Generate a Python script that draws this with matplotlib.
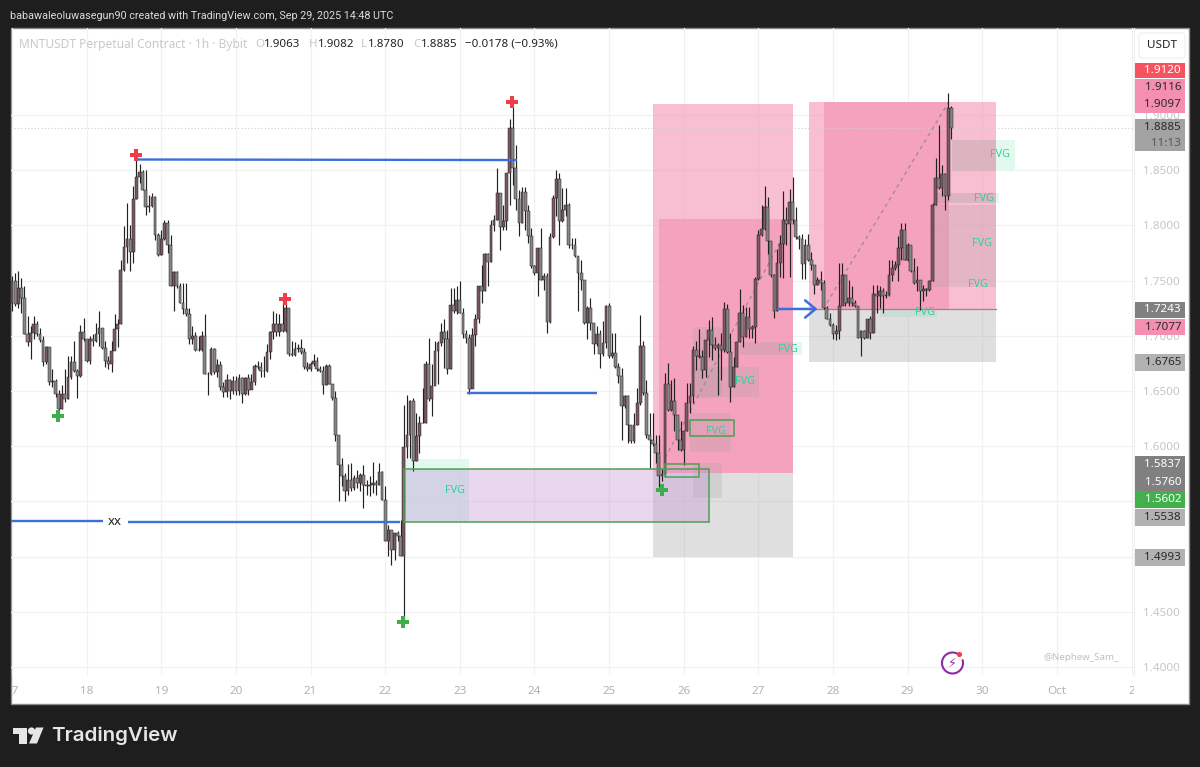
# MNTUSDT 1h chart with zones and FVG boxes
import matplotlib
matplotlib.use("Agg")
import matplotlib.pyplot as plt
from matplotlib.patches import Rectangle, Circle, Arc, Polygon, FancyBboxPatch
from matplotlib.transforms import Bbox
import numpy as np

# hourly candles starting Sep 17 00:00, open = previous close
open_first = 1.730
closes = [
    1.7495,1.7285,1.7435,1.7345,1.7015,1.6946,1.7024,1.7105,1.7015,1.696,
    1.6766,1.6895,1.658,1.6595,1.6475,1.634,1.6475,1.643,1.6625,1.676,
    1.6685,1.6634,1.703,1.697,1.6775,1.697,1.6955,1.7015,1.7075,1.6886,
    1.6775,1.6745,1.6865,1.7066,1.7105,1.76,1.7804,1.7876,1.7756,1.8236,
    1.844,1.8485,1.832,1.817,1.8176,1.826,1.7915,1.7735,1.7876,1.8026,
    1.7825,1.745,1.7579,1.745,1.73,1.724,1.7195,1.697,1.70,1.6874,
    1.6874,1.70,1.6655,1.6652,1.688,1.667,1.6736,1.6535,1.649,1.6604,
    1.6496,1.6595,1.6496,1.6616,1.6475,1.6616,1.6505,1.658,1.673,1.6715,
    1.6685,1.668,1.685,1.7036,1.7111,1.703,1.7105,1.7045,1.7255,1.6835,
    1.6826,1.688,1.6886,1.6856,1.6715,1.67,1.6745,1.6775,1.67,1.6685,
    1.6556,1.673,1.6565,1.6437,1.6104,1.5827,1.5727,1.5591,1.5697,1.5621,
    1.5712,1.5666,1.5742,1.5651,1.5636,1.5651,1.5666,1.5651,1.5766,1.5515,
    1.5138,1.5244,1.5063,1.5213,1.5183,1.5008,1.5993,1.6104,1.6406,1.5863,
    1.6089,1.621,1.621,1.6741,1.6425,1.6545,1.6861,1.6937,1.7033,1.6967,
    1.6702,1.7283,1.7223,1.7328,1.7208,1.7012,1.6982,1.6515,1.7003,1.7154,
    1.7449,1.7404,1.7744,1.7669,1.8006,1.8045,1.8292,1.7985,1.8036,1.8473,
    1.8885,1.8518,1.8238,1.8021,1.8307,1.8126,1.79,1.7629,1.7569,1.7795,
    1.7509,1.7539,1.7123,1.7895,1.8247,1.8419,1.8036,1.8142,1.8187,1.7825,
    1.7825,1.772,1.7569,1.7509,1.7117,1.7253,1.7117,1.6922,1.7012,1.6831,
    1.6937,1.7268,1.6816,1.6846,1.672,1.6636,1.6367,1.6452,1.6196,1.6045,
    1.6196,1.6392,1.6904,1.6482,1.6105,1.606,1.6024,1.594,1.5729,1.5744,
    1.6566,1.6331,1.6407,1.6286,1.606,1.597,1.6136,1.6392,1.6452,1.6873,
    1.6813,1.681,1.669,1.6961,1.7057,1.6916,1.6886,1.6916,1.6871,1.7247,
    1.6855,1.6539,1.672,1.6946,1.7208,1.6991,1.7172,1.7066,1.7081,1.7518,
    1.791,1.797,1.8166,1.7858,1.7548,1.7226,1.766,1.7828,1.8051,1.8015,
    1.8211,1.8045,1.7895,1.788,1.7654,1.7819,1.7684,1.7639,1.7458,1.7503,
    1.7479,1.7253,1.7154,1.7102,1.7012,1.7042,1.7268,1.7554,1.7298,1.7343,
    1.7298,1.7268,1.6982,1.7042,1.6982,1.7148,1.7027,1.7383,1.7358,1.7404,
    1.7358,1.7374,1.7554,1.7614,1.7645,1.7795,1.7961,1.769,1.7825,1.7584,
    1.7479,1.7503,1.7404,1.7425,1.7419,1.75,1.8187,1.8428,1.8337,1.8467,
    1.8268,1.9063,1.8885]
highs = [
    1.754,1.757,1.7585,1.7525,1.745,1.718,1.709,1.718,1.7135,1.7075,
    1.70,1.691,1.679,1.67,1.661,1.6505,1.655,1.67,1.682,1.682,
    1.6955,1.67,1.7096,1.7165,1.697,1.70,1.7015,1.712,1.7225,1.7075,
    1.6955,1.682,1.6955,1.7195,1.715,1.769,1.7996,1.82,1.8005,1.8356,
    1.8635,1.856,1.8506,1.85,1.8275,1.829,1.8265,1.793,1.796,1.805,
    1.805,1.7915,1.7585,1.7585,1.748,1.748,1.748,1.7255,1.709,1.703,
    1.70,1.7045,1.7195,1.667,1.6895,1.6886,1.679,1.6775,1.658,1.6655,
    1.661,1.664,1.664,1.6655,1.6625,1.6625,1.6655,1.6655,1.6745,1.6775,
    1.676,1.682,1.6925,1.7045,1.7225,1.721,1.7195,1.7336,1.73,1.7255,
    1.6955,1.694,1.6925,1.697,1.689,1.676,1.676,1.6835,1.6805,1.673,
    1.673,1.6745,1.6745,1.6557,1.6497,1.6104,1.5893,1.5757,1.5839,1.5848,
    1.5742,1.5787,1.5757,1.5833,1.5697,1.5727,1.5854,1.5697,1.5848,1.5772,
    1.5636,1.5289,1.5244,1.5213,1.5229,1.5334,1.6376,1.6467,1.6421,1.6437,
    1.6301,1.627,1.6527,1.677,1.6982,1.6741,1.6952,1.6952,1.7117,1.7148,
    1.7057,1.7434,1.7434,1.7449,1.7494,1.7253,1.7057,1.7012,1.7072,1.7193,
    1.7449,1.7645,1.775,1.775,1.8051,1.8096,1.8518,1.8286,1.8187,1.8473,
    1.8961,1.909,1.8729,1.8322,1.8352,1.8352,1.8187,1.7976,1.7645,1.7795,
    1.7976,1.7569,1.7569,1.7931,1.8277,1.8503,1.8473,1.8337,1.8337,1.8202,
    1.7886,1.7886,1.7711,1.769,1.7509,1.7268,1.7343,1.7117,1.7087,1.7057,
    1.7133,1.7283,1.7298,1.7027,1.7027,1.6756,1.6708,1.6467,1.6467,1.6196,
    1.6301,1.6527,1.719,1.6949,1.6602,1.6301,1.6301,1.6105,1.6105,1.5789,
    1.6663,1.6753,1.6602,1.6617,1.6226,1.6226,1.6136,1.6572,1.6572,1.6904,
    1.6949,1.7066,1.6871,1.6961,1.7142,1.7172,1.6991,1.6931,1.7021,1.7307,
    1.7292,1.7021,1.681,1.6946,1.7428,1.7277,1.7262,1.7262,1.7096,1.7533,
    1.7955,1.8181,1.8361,1.8256,1.7858,1.7557,1.7789,1.791,1.8316,1.8166,
    1.8331,1.8437,1.8166,1.791,1.7925,1.788,1.7925,1.7759,1.7639,1.7533,
    1.7584,1.7509,1.7268,1.7208,1.7117,1.7102,1.766,1.766,1.7383,1.7509,
    1.7449,1.7328,1.7268,1.7057,1.7057,1.7148,1.7178,1.7464,1.7464,1.7449,
    1.7434,1.7404,1.769,1.769,1.7675,1.7901,1.8021,1.8021,1.784,1.781,
    1.7705,1.763,1.7509,1.7464,1.7434,1.7509,1.8202,1.8608,1.891,1.8548,
    1.8473,1.9196,1.9082]
lows = [
    1.7225,1.727,1.7255,1.721,1.7015,1.691,1.679,1.697,1.70,1.694,
    1.673,1.6745,1.655,1.6535,1.6445,1.6295,1.634,1.64,1.643,1.661,
    1.667,1.6436,1.6625,1.6955,1.676,1.6745,1.691,1.694,1.691,1.688,
    1.6715,1.67,1.667,1.691,1.6895,1.7105,1.7585,1.766,1.7585,1.766,
    1.8236,1.838,1.832,1.8095,1.8125,1.817,1.787,1.772,1.7735,1.787,
    1.775,1.745,1.7225,1.7435,1.73,1.7195,1.718,1.6925,1.6925,1.6865,
    1.6865,1.6865,1.6655,1.6466,1.6646,1.6655,1.6625,1.6505,1.6445,1.6445,
    1.6424,1.6475,1.646,1.646,1.6394,1.646,1.646,1.6535,1.655,1.67,
    1.6625,1.6625,1.667,1.679,1.697,1.70,1.70,1.7036,1.7036,1.682,
    1.682,1.682,1.685,1.6835,1.67,1.6685,1.6685,1.673,1.6685,1.667,
    1.6475,1.655,1.6565,1.642,1.6044,1.55,1.5636,1.55,1.5561,1.5591,
    1.5606,1.5621,1.5591,1.544,1.5561,1.5546,1.5576,1.5561,1.5651,1.5509,
    1.5138,1.5002,1.4927,1.4972,1.5138,1.5002,1.44,1.5893,1.5893,1.5772,
    1.5863,1.5938,1.621,1.621,1.641,1.6274,1.6575,1.656,1.6907,1.6711,
    1.6651,1.6696,1.7208,1.7193,1.7202,1.6982,1.6937,1.647,1.6801,1.6907,
    1.7117,1.7298,1.7404,1.7449,1.7669,1.7946,1.8045,1.7774,1.7961,1.7961,
    1.8187,1.8367,1.8142,1.7907,1.8021,1.7961,1.784,1.7614,1.7554,1.7358,
    1.7503,1.7419,1.7027,1.7117,1.7886,1.8081,1.7825,1.8027,1.8081,1.7795,
    1.7786,1.7711,1.7223,1.7419,1.7108,1.6967,1.7057,1.6831,1.6907,1.6711,
    1.6816,1.6892,1.6801,1.6801,1.6711,1.6575,1.606,1.6346,1.603,1.603,
    1.603,1.6196,1.6377,1.6467,1.6075,1.5804,1.60,1.585,1.563,1.5684,
    1.5729,1.6316,1.6316,1.6136,1.597,1.5955,1.5834,1.6136,1.6301,1.6392,
    1.6693,1.6795,1.6615,1.663,1.681,1.678,1.6871,1.6464,1.66,1.6855,
    1.6846,1.6404,1.6533,1.672,1.6946,1.69,1.6991,1.6976,1.6976,1.6931,
    1.7503,1.7901,1.7961,1.7744,1.7533,1.7157,1.7226,1.7533,1.7527,1.7819,
    1.7533,1.8015,1.788,1.7789,1.7518,1.7518,1.7678,1.7593,1.7383,1.7458,
    1.7419,1.7247,1.7148,1.7087,1.6967,1.6961,1.6967,1.7374,1.7268,1.7268,
    1.7268,1.7262,1.6982,1.6816,1.6973,1.6982,1.6967,1.7021,1.7208,1.7253,
    1.7208,1.7344,1.7358,1.7494,1.7599,1.7494,1.769,1.7684,1.7675,1.7575,
    1.7473,1.7404,1.7238,1.7313,1.7358,1.7404,1.7494,1.8187,1.8328,1.8262,
    1.8142,1.8232,1.878]

# hours since Sep 17 00:00 for x, price for y
pink_zones = [(206.1, 251.1, 1.5760, 1.9100), (208.0, 251.1, 1.5760, 1.8058),
              (256.3, 316.4, 1.7243, 1.9116), (261.1, 301.3, 1.7243, 1.9116)]
grey_zones = [(206.1, 251.1, 1.4993, 1.5760), (256.3, 316.4, 1.6765, 1.7243)]
# mint extent then the greyed part inside the zone
fvg_mint = [(126.4, 146.9, 1.5793, 1.5884), (234.1, 254.0, 1.6826, 1.6944), (302.3, 322.5, 1.8493, 1.8773),
            (296.8, 317.4, 1.8203, 1.8293), (279.1, 297.4, 1.7170, 1.7243)]
fvg_grey = [(218.0, 231.2, 1.5947, 1.6301), (219.6, 240.2, 1.6446, 1.6717), (234.1, 251.1, 1.6826, 1.6944),
            (302.3, 316.4, 1.8493, 1.8773), (296.8, 316.4, 1.8203, 1.8293), (296.1, 316.4, 1.7442, 1.8185),
            (219.0, 228.3, 1.5531, 1.5848), (219.0, 228.3, 1.6437, 1.7080)]
fvg_blue = (126.4, 146.9, 1.5322, 1.5793)
fvg_x = [142.4, 226.4, 235.7, 249.5, 317.7, 312.5, 311.9, 310.6, 293.6]
fvg_y = [1.5603, 1.6129, 1.6582, 1.6880, 1.8638, 1.8248, 1.7840, 1.7469, 1.7207]
lavender_box = (126.0, 224.1, 1.5313, 1.5793)
green_boxes = [(218.0, 232.2, 1.6092, 1.6237), (210.0, 220.9, 1.5721, 1.5839)]
blue_lines = [(39.9, 162.4, 1.8597, 1.8592), (146.3, 188.1, 1.6486, 1.6486),
              (-0.3, 29.3, 1.5322, 1.5322), (37.3, 124.8, 1.5313, 1.5313)]
dash_lines = [(210.0, 247.0, 1.5893, 1.7850), (262.0, 301.0, 1.7297, 1.9109)]
red_x = [39.9, 160.8, 87.8]
red_y = [1.8638, 1.9118, 1.7333]
green_x = [14.8, 125.7, 209.0]
green_y = [1.6274, 1.4408, 1.5603]

day_hours = [24 * k for k in range(16)]
day_labels = ["17", "18", "19", "20", "21", "22", "23", "24", "25", "26", "27", "28", "29", "30", "Oct", "2"]
price_ticks = [1.40, 1.45, 1.50, 1.55, 1.60, 1.65, 1.70, 1.75, 1.80, 1.85, 1.90]
last_price = 1.8885

# price label boxes: text lines, top px, bottom px, fill, text colour
axis_boxes = [(["1.9120"], 63, 78, "#f7525f", "white"),
              (["1.9116", "1.9097"], 79, 113, "#f48fb1", "#2a2a2a"),
              (["1.8885", "11:13"], 119, 151, "#a3a3a3", "#2a2a2a"),
              (["1.7243"], 302, 318, "#808080", "white"),
              (["1.7077"], 319, 335, "#f48fb1", "#2a2a2a"),
              (["1.6765"], 354, 371, "#b2b2b2", "#2a2a2a"),
              (["1.5837", "1.5760"], 456, 491, "#808080", "white"),
              (["1.5602"], 491, 508, "#43b14b", "white"),
              (["1.5538"], 509, 526, "#b2b2b2", "#2a2a2a"),
              (["1.4993"], 549, 566, "#b2b2b2", "#2a2a2a")]

W, H = 1200, 767
plt.rcParams['font.family'] = ['Noto Sans', 'DejaVu Sans']
fig = plt.figure(figsize=(W / 100, H / 100), dpi=100, facecolor="#1e1e1e")

bg = fig.add_axes([0, 0, 1, 1], zorder=-1)
bg.set_xlim(0, W)
bg.set_ylim(H, 0)
bg.axis("off")
bg.add_patch(Rectangle((11, 28), 1178, 676, fc="white", ec="#8a8a8a", lw=1))

# main price pane, px 11-1134 and 28-675
ax = fig.add_axes([11 / W, 1 - 675 / H, 1123 / W, 647 / H], zorder=1)
ax.set_facecolor("none")
ax.set_xlim((11 - 12) / 3.11, (1134 - 12) / 3.11)
ax.set_ylim(1.4 + (667 - 675) / 1104, 1.4 + (667 - 28) / 1104)
for s in ["top", "left", "bottom"]:
    ax.spines[s].set_visible(False)
ax.spines["right"].set_color("#eeeef0")
ax.grid(True, color="#f1f1f3", lw=0.9)
ax.set_axisbelow(True)
ax.set_xticks(day_hours)
ax.set_xticklabels(day_labels)
ax.set_yticks(price_ticks)
# 1.5500 sits fully behind the green label box
ax.set_yticklabels(["" if p == 1.55 else "%.4f" % p for p in price_ticks])
ax.yaxis.tick_right()
ax.tick_params(axis="y", length=0, pad=6.5, labelsize=8.4, labelcolor="#c4c6cc")
ax.tick_params(axis="x", length=0, pad=8, labelsize=8.4, labelcolor="#b0b2b8")
clip = Bbox([[11, 0], [1134, H]])
for lab in ax.get_xticklabels():
    lab.set_clip_box(clip)
    lab.set_clip_on(True)
    if lab.get_text() == "Oct":
        lab.set_fontweight("bold")

ax.axhline(last_price, color="#cfcfcf", lw=0.8, ls=(0, (1, 2)), zorder=1.9)


def box(r, **kw):
    ax.add_patch(Rectangle((r[0], r[2]), r[1] - r[0], r[3] - r[2], **kw))


for r in fvg_mint:
    box(r, fc="#e4f9ee", ec="none", zorder=1)
for r in pink_zones:
    box(r, fc="#f48fb1", alpha=0.58, ec="none", zorder=1.2)
for r in grey_zones:
    box(r, fc="#9e9e9e", alpha=0.32, ec="none", zorder=1.2)
for r in fvg_grey:
    box(r, fc="#9e9e9e", alpha=0.22, ec="none", zorder=1.4)
box(lavender_box, fc="#c89bd8", alpha=0.4, ec="none", zorder=1.5)
box(fvg_blue, fc="#c8d2e0", alpha=0.65, ec="none", zorder=1.6)
box(lavender_box, fc="none", ec="#4c9f55", lw=1.1, zorder=3.5)
for r in green_boxes:
    box(r, fc="none", ec="#4c9f55", lw=1.1, zorder=3.5)
ax.plot([256.3, 316.4], [1.7243, 1.7243], color="#8c8c8c", lw=0.9, zorder=2)

# candles
x = np.arange(len(closes))
opens = np.array([open_first] + closes[:-1])
c = np.array(closes)
up = c >= opens
ax.vlines(x, lows, highs, color="#222222", lw=0.85, zorder=3)
ax.bar(x[up], (c - opens)[up], bottom=opens[up], width=0.9, color="#7a5764", edgecolor="#222222", lw=0.35, zorder=3.2)
ax.bar(x[~up], (c - opens)[~up], bottom=opens[~up], width=0.9, color="#868686", edgecolor="#222222", lw=0.35, zorder=3.2)

for x0, x1, y0, y1 in blue_lines:
    ax.plot([x0, x1], [y0, y1], color="#3b6fdc", lw=1.7, zorder=4, solid_capstyle="butt")
for x0, x1, y0, y1 in dash_lines:
    ax.plot([x0, x1], [y0, y1], color="#9c8a90", lw=0.9, ls=(0, (3, 3)), zorder=2.5)
ax.text(33.1, 1.5322, "xx", ha="center", va="center", fontsize=9.5, color="#222222")
ax.annotate("", xy=(259.0, 1.7243), xytext=(246.3, 1.7243), zorder=4,
            arrowprops=dict(arrowstyle="->,head_length=0.75,head_width=0.62", color="#3b6fdc", lw=1.8,
                            shrinkA=0, shrinkB=0))
ax.plot(red_x, red_y, "P", color="#ef3e4a", ms=8.5, mew=0, zorder=5)
ax.plot(green_x, green_y, "P", color="#3dae4a", ms=8.5, mew=0, zorder=5)
for fx, fy in zip(fvg_x, fvg_y):
    ax.text(fx, fy, "FVG", ha="center", va="center", fontsize=7.8, color="#2ed29a", zorder=6)

# pixel overlay for labels, header and logo
ov = fig.add_axes([0, 0, 1, 1], zorder=2)
ov.set_xlim(0, W)
ov.set_ylim(H, 0)
ov.axis("off")
for lines, top, bot, fc, tc in axis_boxes:
    ov.add_patch(Rectangle((1135, top), 50, bot - top, fc=fc, ec="none"))
    step = (bot - top) / len(lines)
    for i, t in enumerate(lines):
        col = "#555555" if t == "11:13" else tc
        ov.text(1181, top + step * (i + 0.5), t, ha="right", va="center", fontsize=8.4, color=col)
ov.add_patch(FancyBboxPatch((1139, 33), 46, 25, boxstyle="round,pad=0,rounding_size=3", fc="white", ec="#eeeeee", lw=0.8))
ov.text(1162, 45.5, "USDT", ha="center", va="center", fontsize=8.4, color="#222222")

ov.text(10, 16, "babawaleoluwasegun90 created with TradingView.com, Sep 29, 2025 14:48 UTC",
        ha="left", va="center", fontsize=7.75, color="#dcdcdc", family="Roboto")
ov.text(19, 44.5, "MNTUSDT Perpetual Contract · 1h · Bybit", ha="left", va="center", fontsize=8.6, color="#c8c8cc")
for lx, vx, letter, val in [(255, 264, "O", "1.9063"), (309, 318, "H", "1.9082"), (361, 368, "L", "1.8780"), (413, 421, "C", "1.8885")]:
    ov.text(lx, 44.5, letter, ha="left", va="center", fontsize=8.3, color="#c8c8cc")
    ov.text(vx, 44.5, val, ha="left", va="center", fontsize=8.3, color="#222222")
ov.text(465, 44.5, "−0.0178 (−0.93%)", ha="left", va="center", fontsize=8.3, color="#222222")

ov.text(1043, 657, "@Nephew_Sam_", ha="left", va="center", fontsize=7.0, color="#c0c0c4")
ov.add_patch(Arc((952.5, 663), 21, 21, theta1=-20, theta2=300, color="#8e2aa8", lw=1.5))
ov.add_patch(Circle((959.5, 654.5), 2.6, fc="#ef3e4a", ec="none"))
ov.text(952, 663, "⚡", ha="center", va="center", fontsize=9, color="#8e2aa8", family="DejaVu Sans")

# TradingView logo
ov.add_patch(Polygon([(12.5, 727.5), (27, 727.5), (27, 743.5), (19, 743.5), (19, 734), (12.5, 734)], fc="#e6e6e6", ec="none"))
ov.add_patch(Circle((31.5, 731), 3.6, fc="#e6e6e6", ec="none"))
ov.add_patch(Polygon([(36, 727.5), (43.5, 727.5), (37, 743.5), (29, 743.5)], fc="#e6e6e6", ec="none"))
ov.text(51, 736, "TradingView", ha="left", va="center", fontsize=14.8, fontweight="semibold", color="#e6e6e6", family="Inter")

fig.savefig("out.png", dpi=100, facecolor=fig.get_facecolor())
